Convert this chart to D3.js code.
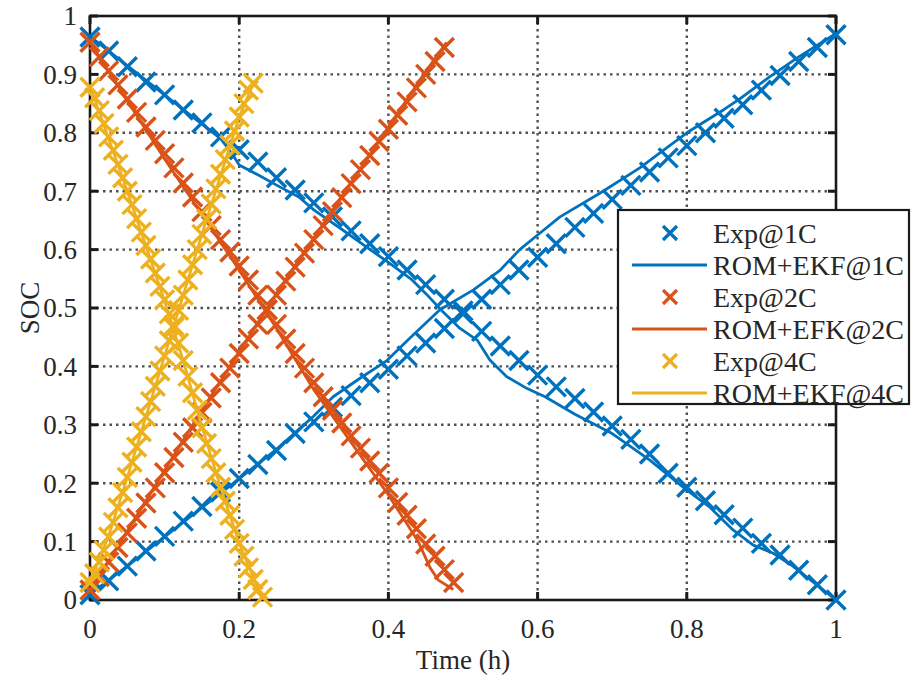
<!DOCTYPE html>
<html>
<head>
<meta charset="utf-8">
<script src="https://cdn.jsdelivr.net/npm/d3@7"></script>
<style>
  html, body { margin: 0; padding: 0; background: #fff; }
  svg { display: block; }
  text { font-family: "Liberation Serif", "Times New Roman", serif; fill: #262626; }
</style>
</head>
<body>
<svg id="chart" width="911" height="681"></svg>
<script>
// ---- data -------------------------------------------------------------
// Time (h) stepping for each C-rate
const step1C = 0.025, step2C = 0.0125, step4C = 0.00625;

// 1C experiment: discharge and charge SOC at t = k * step1C
const exp1CDis = [0.964, 0.94, 0.913, 0.887, 0.865, 0.839, 0.817, 0.793, 0.771, 0.75,
  0.723, 0.702, 0.68, 0.656, 0.632, 0.61, 0.588, 0.565, 0.54, 0.515,
  0.49, 0.46, 0.435, 0.41, 0.385, 0.365, 0.345, 0.322, 0.298, 0.275,
  0.25, 0.217, 0.193, 0.17, 0.146, 0.123, 0.097, 0.077, 0.051, 0.026, 0.0];
const exp1CChg = [0.009, 0.033, 0.058, 0.084, 0.109, 0.135, 0.16, 0.185, 0.208, 0.232,
  0.256, 0.285, 0.305, 0.33, 0.35, 0.372, 0.395, 0.418, 0.44, 0.465,
  0.495, 0.515, 0.54, 0.565, 0.587, 0.61, 0.638, 0.662, 0.686, 0.71,
  0.733, 0.757, 0.778, 0.8, 0.825, 0.848, 0.873, 0.898, 0.922, 0.946, 0.968];

// 1C ROM+EKF estimate: [time, SOC]
const rom1CDis = [[0, 0.965], [0.05, 0.915], [0.1, 0.865], [0.15, 0.815], [0.175, 0.79],
  [0.19, 0.765], [0.2, 0.745], [0.225, 0.728], [0.255, 0.707], [0.28, 0.69], [0.3, 0.668],
  [0.335, 0.637], [0.37, 0.605], [0.4, 0.578], [0.43, 0.55], [0.45, 0.525], [0.472, 0.495],
  [0.496, 0.465], [0.519, 0.445], [0.536, 0.411], [0.559, 0.382], [0.586, 0.362],
  [0.61, 0.348], [0.65, 0.318], [0.7, 0.285], [0.75, 0.24], [0.8, 0.188], [0.83, 0.16],
  [0.862, 0.12], [0.889, 0.094], [0.916, 0.08], [0.94, 0.06], [0.97, 0.03], [1.0, 0.0]];
const rom1CChg = [[0, 0.01], [0.05, 0.058], [0.1, 0.108], [0.15, 0.158], [0.2, 0.208],
  [0.25, 0.258], [0.3, 0.315], [0.326, 0.348], [0.36, 0.378], [0.398, 0.41], [0.43, 0.45],
  [0.469, 0.497], [0.514, 0.531], [0.55, 0.565], [0.576, 0.6], [0.6, 0.625], [0.63, 0.656],
  [0.684, 0.697], [0.737, 0.74], [0.8, 0.8], [0.85, 0.84], [0.871, 0.858], [0.91, 0.895],
  [0.95, 0.93], [0.975, 0.95], [1.0, 0.97]];

// 2C experiment at t = k * step2C
const exp2CDis = [0.955, 0.93, 0.906, 0.882, 0.858, 0.835, 0.81, 0.787, 0.764, 0.74,
  0.714, 0.69, 0.665, 0.641, 0.617, 0.596, 0.572, 0.548, 0.522, 0.497,
  0.472, 0.447, 0.422, 0.397, 0.372, 0.348, 0.325, 0.303, 0.281, 0.26,
  0.238, 0.217, 0.192, 0.167, 0.145, 0.122, 0.096, 0.075, 0.052, 0.03];
const exp2CChg = [0.017, 0.04, 0.065, 0.09, 0.115, 0.14, 0.166, 0.192, 0.218, 0.244,
  0.27, 0.295, 0.321, 0.346, 0.372, 0.397, 0.422, 0.447, 0.472, 0.497,
  0.522, 0.546, 0.57, 0.594, 0.617, 0.641, 0.665, 0.689, 0.713, 0.737,
  0.761, 0.785, 0.806, 0.83, 0.853, 0.877, 0.9, 0.922, 0.946];

// 2C ROM+EKF estimate
const rom2CDis = [[0, 0.955], [0.05, 0.855], [0.1, 0.755], [0.15, 0.66], [0.2, 0.565],
  [0.25, 0.465], [0.3, 0.36], [0.35, 0.27], [0.4, 0.18], [0.44, 0.1], [0.456, 0.055],
  [0.467, 0.034], [0.487, 0.018]];
const rom2CChg = [[0, 0.015], [0.05, 0.118], [0.1, 0.222], [0.15, 0.325], [0.2, 0.425],
  [0.25, 0.525], [0.3, 0.62], [0.35, 0.715], [0.4, 0.81], [0.45, 0.905], [0.478, 0.955]];

// 4C experiment at t = k * step4C
const exp4CDis = [0.878, 0.86, 0.838, 0.816, 0.793, 0.77, 0.746, 0.723, 0.7, 0.677,
  0.653, 0.63, 0.607, 0.584, 0.56, 0.537, 0.514, 0.49, 0.466, 0.44,
  0.41, 0.383, 0.355, 0.325, 0.295, 0.268, 0.242, 0.218, 0.193, 0.169,
  0.145, 0.121, 0.097, 0.075, 0.055, 0.035, 0.018, 0.005];
const exp4CChg = [0.03, 0.045, 0.065, 0.085, 0.108, 0.133, 0.158, 0.184, 0.21, 0.236,
  0.262, 0.288, 0.314, 0.34, 0.366, 0.392, 0.418, 0.444, 0.47, 0.496,
  0.522, 0.548, 0.574, 0.6, 0.626, 0.652, 0.678, 0.704, 0.729, 0.754,
  0.779, 0.803, 0.827, 0.85, 0.873, 0.885];

// 4C ROM+EKF estimate
const rom4CDis = [[0, 0.88], [0.05, 0.7], [0.1, 0.512], [0.125, 0.41], [0.15, 0.297],
  [0.175, 0.193], [0.2, 0.097], [0.23, 0.005]];
const rom4CChg = [[0, 0.03], [0.025, 0.11], [0.05, 0.21], [0.1, 0.418], [0.15, 0.626],
  [0.2, 0.827], [0.219, 0.885]];

const xTicks = [0, 0.2, 0.4, 0.6, 0.8, 1];
const yTicks = [0, 0.1, 0.2, 0.3, 0.4, 0.5, 0.6, 0.7, 0.8, 0.9, 1];
const legendLabels = ["Exp@1C", "ROM+EKF@1C", "Exp@2C", "ROM+EFK@2C", "Exp@4C", "ROM+EKF@4C"];
const colors = ["#0072BD", "#D95319", "#EDB120"];

// ---- layout -----------------------------------------------------------
const svg = d3.select("#chart");
const plotL = 90, plotR = 836, plotT = 16, plotB = 600;
const x = d3.scaleLinear().domain([0, 1]).range([plotL, plotR]);
const y = d3.scaleLinear().domain([0, 1]).range([plotB, plotT]);

const fmt = v => (v === 0 ? "0" : v === 1 ? "1" : String(v));

// grid
const grid = svg.append("g").attr("stroke", "#333").attr("stroke-width", 2.4)
  .attr("stroke-dasharray", "2.5,4").attr("opacity", 0.85);
xTicks.filter(t => t > 0 && t < 1).forEach(t => {
  grid.append("line").attr("x1", x(t)).attr("x2", x(t)).attr("y1", plotT).attr("y2", plotB);
});
yTicks.filter(t => t > 0 && t < 1).forEach(t => {
  grid.append("line").attr("x1", plotL).attr("x2", plotR).attr("y1", y(t)).attr("y2", y(t));
});

// axes box and ticks
const axisG = svg.append("g").attr("stroke", "#1a1a1a");
axisG.append("rect").attr("x", plotL).attr("y", plotT).attr("width", plotR - plotL)
  .attr("height", plotB - plotT).attr("fill", "none").attr("stroke-width", 2.6);
const tl = 8;
xTicks.forEach(t => {
  axisG.append("line").attr("x1", x(t)).attr("x2", x(t)).attr("y1", plotB).attr("y2", plotB - tl).attr("stroke-width", 3);
  axisG.append("line").attr("x1", x(t)).attr("x2", x(t)).attr("y1", plotT).attr("y2", plotT + tl).attr("stroke-width", 3);
});
yTicks.forEach(t => {
  axisG.append("line").attr("x1", plotL).attr("x2", plotL + tl).attr("y1", y(t)).attr("y2", y(t)).attr("stroke-width", 3);
  axisG.append("line").attr("x1", plotR).attr("x2", plotR - tl).attr("y1", y(t)).attr("y2", y(t)).attr("stroke-width", 3);
});

// tick labels
svg.append("g").selectAll("text").data(xTicks).join("text")
  .attr("x", d => x(d)).attr("y", 638).attr("text-anchor", "middle")
  .attr("font-size", 27).text(fmt);
svg.append("g").selectAll("text").data(yTicks).join("text")
  .attr("x", 77).attr("y", d => y(d)).attr("dy", "0.35em").attr("text-anchor", "end")
  .attr("font-size", 27).text(fmt);

// axis titles
svg.append("text").attr("x", x(0.5)).attr("y", 669).attr("text-anchor", "middle")
  .attr("font-size", 27).text("Time (h)");
svg.append("text").attr("transform", `translate(39,${y(0.5)}) rotate(-90)`)
  .attr("text-anchor", "middle").attr("font-size", 27).text("SOC");

// ---- series -----------------------------------------------------------
const line = d3.line().x(d => x(d[0])).y(d => y(d[1]));
const cross = "M-9.5,-9.5L9.5,9.5M-9.5,9.5L9.5,-9.5";

function expPoints(vals, step) { return vals.map((v, i) => [i * step, v]); }

const groups = [
  { color: colors[0], exp: [expPoints(exp1CDis, step1C), expPoints(exp1CChg, step1C)], rom: [rom1CDis, rom1CChg] },
  { color: colors[1], exp: [expPoints(exp2CDis, step2C), expPoints(exp2CChg, step2C)], rom: [rom2CDis, rom2CChg] },
  { color: colors[2], exp: [expPoints(exp4CDis, step4C), expPoints(exp4CChg, step4C)], rom: [rom4CDis, rom4CChg] }
];

const dataG = svg.append("g");
groups.forEach(g => {
  g.exp.forEach(pts => {
    dataG.append("g").selectAll("path").data(pts).join("path")
      .attr("d", cross).attr("transform", d => `translate(${x(d[0])},${y(d[1])})`)
      .attr("fill", "none").attr("stroke", g.color).attr("stroke-width", 3.4);
  });
  g.rom.forEach(pts => {
    dataG.append("path").datum(pts).attr("d", line)
      .attr("fill", "none").attr("stroke", g.color).attr("stroke-width", 2.8)
      .attr("stroke-linejoin", "round");
  });
});

// ---- legend -----------------------------------------------------------
const lg = svg.append("g");
lg.append("rect").attr("x", 618).attr("y", 210).attr("width", 291).attr("height", 194)
  .attr("fill", "#fff").attr("stroke", "#1a1a1a").attr("stroke-width", 2.2);
legendLabels.forEach((lab, i) => {
  const cy = 233 + i * 32;
  const c = colors[Math.floor(i / 2)];
  if (i % 2 === 0) {
    lg.append("path").attr("d", "M-7,-7L7,7M-7,7L7,-7").attr("transform", `translate(670,${cy})`)
      .attr("fill", "none").attr("stroke", c).attr("stroke-width", 3.2);
  } else {
    lg.append("line").attr("x1", 632).attr("x2", 707).attr("y1", cy).attr("y2", cy)
      .attr("stroke", c).attr("stroke-width", 3);
  }
  lg.append("text").attr("x", 713).attr("y", cy).attr("dy", "0.35em")
    .attr("font-size", 28).text(lab);
});
</script>
</body>
</html>
